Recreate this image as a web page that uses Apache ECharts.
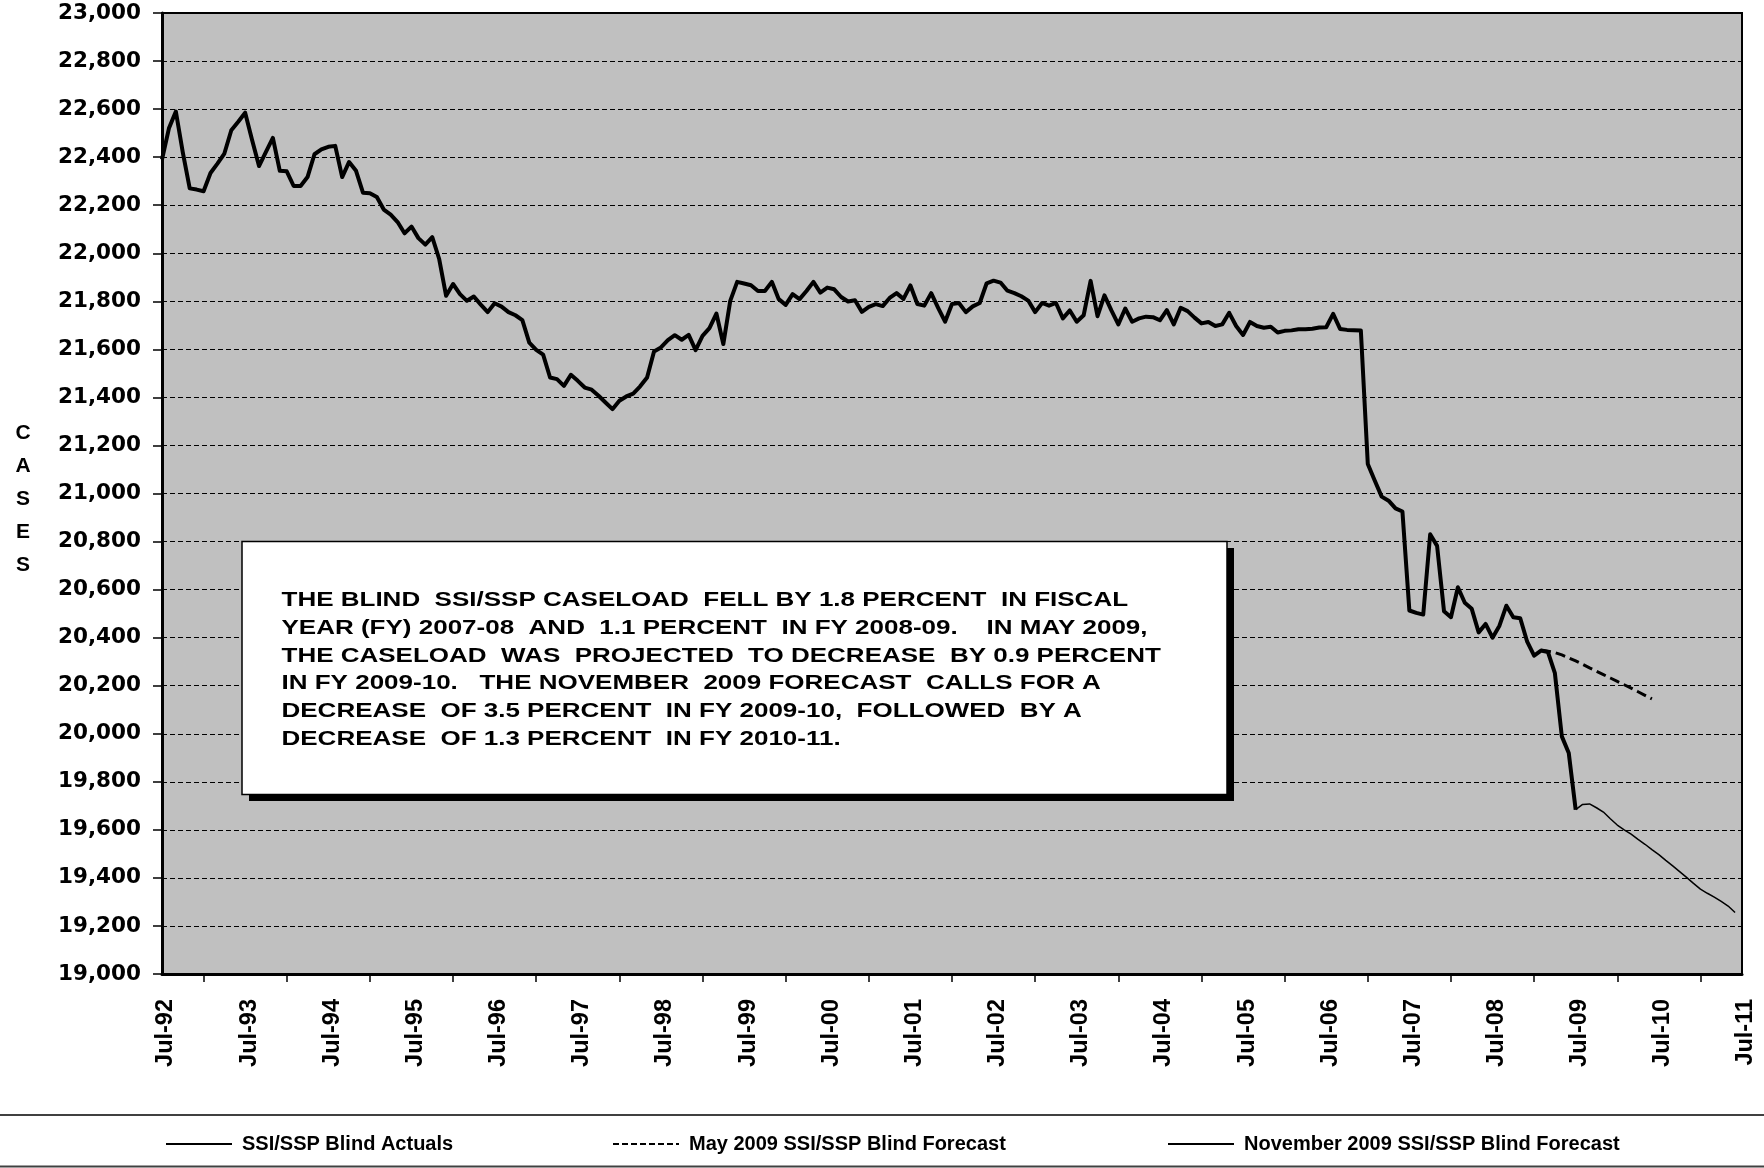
<!DOCTYPE html>
<html>
<head>
<meta charset="utf-8">
<style>
  html, body { margin: 0; padding: 0; background: #fff; }
  #chart { width: 1764px; height: 1168px; }
</style>
<script src="https://cdn.jsdelivr.net/npm/echarts@6/dist/echarts.min.js"></script>
</head>
<body>
<div id="chart"></div>
<script>
// x axis: months counted from Jul-92 (0) to Jul-11 (228)
const xLabels = [
  "Jul-92", "Jul-93", "Jul-94", "Jul-95", "Jul-96", "Jul-97", "Jul-98",
  "Jul-99", "Jul-00", "Jul-01", "Jul-02", "Jul-03", "Jul-04", "Jul-05",
  "Jul-06", "Jul-07", "Jul-08", "Jul-09", "Jul-10", "Jul-11",
];

// monthly caseload, Jul-92 .. Jul-09
const actuals = [
  22390, 22520, 22590, 22420, 22270, 22265, 22258, 22334, 22373, 22415,
  22512, 22547, 22585, 22471, 22363, 22422, 22480, 22343, 22341, 22280,
  22280, 22317, 22412, 22432, 22443, 22447, 22317, 22380, 22343, 22252,
  22250, 22234, 22182, 22161, 22130, 22083, 22111, 22063, 22036, 22067,
  21976, 21823, 21872, 21830, 21802, 21820, 21786, 21755, 21792, 21778,
  21755, 21742, 21722, 21628, 21598, 21578, 21483, 21476, 21448, 21494,
  21469, 21441, 21432, 21407, 21379, 21351, 21386, 21404, 21416, 21446,
  21483, 21591, 21608, 21638, 21659, 21640, 21660, 21597, 21656, 21688,
  21749, 21622, 21802, 21881, 21874, 21867, 21843, 21843, 21881, 21809,
  21785, 21830, 21809, 21843, 21881, 21836, 21857, 21850, 21818, 21799,
  21804, 21756, 21777, 21788, 21780, 21814, 21834, 21810, 21866, 21789,
  21782, 21834, 21773, 21715, 21789, 21793, 21755, 21779, 21793, 21875,
  21886, 21878, 21844, 21834, 21821, 21803, 21755, 21793, 21782, 21793,
  21729, 21762, 21715, 21742, 21885, 21738, 21825, 21762, 21704, 21770,
  21715, 21729, 21736, 21734, 21721, 21763, 21704, 21773, 21759, 21732,
  21708, 21714, 21697, 21704, 21752, 21697, 21660, 21714, 21697, 21690,
  21694, 21670, 21677, 21679, 21684, 21684, 21686, 21691, 21692, 21748,
  21685, 21681, 21680, 21678, 21123, 21054, 20987, 20970, 20938, 20925,
  20513, 20503, 20496, 20830, 20782, 20510, 20485, 20610, 20545, 20520,
  20422, 20457, 20400, 20450, 20533, 20485, 20481, 20383, 20325, 20346,
  20340, 20252, 19989, 19920, 19684,
];

// May 2009 forecast, Feb-09 .. Jun-10
const mayStart = 199;
const mayForecast = [
  20349, 20344, 20338, 20328, 20316, 20303, 20289, 20274, 20260,
  20246, 20232, 20218, 20204, 20190, 20175, 20160, 20145,
];

// November 2009 forecast, Jul-09 .. Jun-11
const novStart = 204;
const novForecast = [
  19684, 19706, 19708, 19692, 19674, 19646, 19620, 19600, 19582, 19560,
  19540, 19518, 19497, 19473, 19450, 19426, 19402, 19377, 19353, 19336,
  19320, 19302, 19283, 19256,
];

const seriesNames = [
  "SSI/SSP Blind Actuals",
  "May 2009 SSI/SSP Blind Forecast",
  "November 2009 SSI/SSP Blind Forecast",
];

const noteLines = [
  "THE BLIND  SSI/SSP CASELOAD  FELL BY 1.8 PERCENT  IN FISCAL",
  "YEAR (FY) 2007-08  AND  1.1 PERCENT  IN FY 2008-09.    IN MAY 2009,",
  "THE CASELOAD  WAS  PROJECTED  TO DECREASE  BY 0.9 PERCENT",
  "IN FY 2009-10.   THE NOVEMBER  2009 FORECAST  CALLS FOR A",
  "DECREASE  OF 3.5 PERCENT  IN FY 2009-10,  FOLLOWED  BY A",
  "DECREASE  OF 1.3 PERCENT  IN FY 2010-11.",
];

const toPairs = (start, values) => values.map((v, i) => [start + i, v]);

const legendBase = {
  top: 1134,
  padding: 0,
  itemWidth: 66,
  itemHeight: 22,
  lineStyle: { width: 2 },
  itemStyle: { opacity: 0 }, // hide the symbol, keep the line sample
  textStyle: {
    fontFamily: "Liberation Sans",
    fontWeight: "bold",
    fontSize: 20,
    color: "#000",
    padding: [0, 0, 0, 5],
  },
};

const chart = echarts.init(document.getElementById("chart"));

chart.setOption({
  animation: false,
  backgroundColor: "#fff",
  grid: {
    left: 162,
    right: 22,
    top: 13,
    bottom: 194,
    show: true,
    backgroundColor: "#c0c0c0",
    borderColor: "#000",
    borderWidth: 2,
  },
  legend: [
    Object.assign({}, legendBase, { left: 165, data: [seriesNames[0]] }),
    Object.assign({}, legendBase, {
      left: 612,
      data: [{ name: seriesNames[1], lineStyle: { type: [6, 3], width: 2 } }],
    }),
    Object.assign({}, legendBase, { left: 1167, data: [seriesNames[2]] }),
  ],
  xAxis: {
    type: "value",
    min: 0,
    max: 228,
    interval: 12,
    axisLine: { lineStyle: { color: "#000", width: 3 } },
    axisTick: { show: false },
    minorTick: {
      show: true,
      splitNumber: 2,
      length: 8,
      lineStyle: { color: "#000", width: 1.5 },
    },
    splitLine: { show: false },
    axisLabel: {
      rotate: 90,
      margin: 25,
      showMinLabel: true,
      showMaxLabel: true,
      hideOverlap: false,
      formatter: (v) => "{t|" + xLabels[Math.round(v / 12)] + "}",
      rich: {
        t: {
          fontFamily: "Liberation Sans",
          fontWeight: "bold",
          fontSize: 23.5,
          color: "#000",
          padding: [8, 0, 0, 0],
        },
      },
    },
  },
  yAxis: {
    type: "value",
    min: 19000,
    max: 23000,
    interval: 200,
    axisLine: { show: true, lineStyle: { color: "#000", width: 3 } },
    axisTick: { show: true, length: 9, lineStyle: { color: "#000", width: 1.5 } },
    axisLabel: {
      margin: 21,
      fontFamily: "DejaVu Sans",
      fontWeight: "bold",
      fontSize: 21.5,
      color: "#000",
      formatter: (v) => v.toLocaleString("en-US"),
    },
    splitLine: { lineStyle: { color: "#000", type: [5, 3], width: 1 } },
  },
  series: [
    {
      name: seriesNames[1],
      type: "line",
      data: toPairs(mayStart, mayForecast),
      symbol: "none",
      color: "#000",
      lineStyle: { color: "#000", width: 3, type: [10, 5] },
      z: 2,
    },
    {
      name: seriesNames[2],
      type: "line",
      data: toPairs(novStart, novForecast),
      symbol: "none",
      color: "#000",
      lineStyle: { color: "#000", width: 1.5 },
      z: 3,
    },
    {
      name: seriesNames[0],
      type: "line",
      data: toPairs(0, actuals),
      symbol: "none",
      color: "#000",
      lineStyle: { color: "#000", width: 4, join: "round" },
      z: 4,
    },
  ],
  graphic: [
    // note box with drop shadow
    {
      type: "rect",
      z: 100,
      shape: { x: 249, y: 548, width: 985, height: 253 },
      style: { fill: "#000" },
    },
    {
      type: "rect",
      z: 101,
      shape: { x: 242, y: 541.5, width: 985, height: 253 },
      style: { fill: "#fff", stroke: "#000", lineWidth: 1.5 },
    },
    {
      type: "text",
      z: 102,
      x: 281.5,
      y: 670,
      scaleX: 1.3,
      style: {
        text: noteLines.join("\n"),
        font: 'bold 20px "Liberation Sans"',
        lineHeight: 27.8,
        fill: "#000",
        align: "left",
        verticalAlign: "middle",
      },
    },
    // vertical axis title
    {
      type: "text",
      z: 100,
      x: 23,
      y: 499,
      style: {
        text: "C\nA\nS\nE\nS",
        font: 'bold 21px "Liberation Sans"',
        lineHeight: 33,
        fill: "#000",
        align: "center",
        verticalAlign: "middle",
      },
    },
    // legend frame
    {
      type: "line",
      z: 100,
      shape: { x1: 0, y1: 1115, x2: 1764, y2: 1115 },
      style: { stroke: "#404040", lineWidth: 2 },
    },
    {
      type: "line",
      z: 100,
      shape: { x1: 0, y1: 1166.5, x2: 1764, y2: 1166.5 },
      style: { stroke: "#404040", lineWidth: 2 },
    },
  ],
});
</script>
</body>
</html>
